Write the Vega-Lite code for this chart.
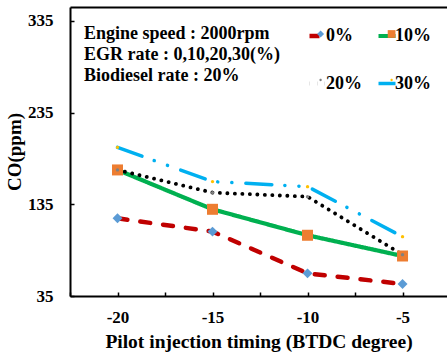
{
  "$schema": "https://vega.github.io/schema/vega-lite/v6.json",
  "width": 377,
  "height": 289,
  "autosize": {"type": "none"},
  "padding": {"left": 70, "top": 7, "right": 0, "bottom": 57},
  "background": "white",
  "config": {"view": {"stroke": null}, "font": "Liberation Serif"},
  "title": {
    "text": ["Engine speed : 2000rpm", "EGR rate : 0,10,20,30(%)", "Biodiesel rate : 20%"],
    "anchor": "start",
    "frame": "group",
    "orient": "top",
    "offset": 0,
    "dx": 14,
    "dy": 78,
    "baseline": "top",
    "lineHeight": 21,
    "font": "Liberation Serif",
    "fontWeight": "bold",
    "fontSize": 18,
    "color": "black"
  },
  "data": {
    "values": [
      {"t": -20, "co": 119.7, "series": "0%"},
      {"t": -15, "co": 105.2, "series": "0%"},
      {"t": -10, "co": 59.7, "series": "0%"},
      {"t": -5, "co": 48.1, "series": "0%"},
      {"t": -20, "co": 172.4, "series": "10%"},
      {"t": -15, "co": 129.5, "series": "10%"},
      {"t": -10, "co": 101.2, "series": "10%"},
      {"t": -5, "co": 78.6, "series": "10%"},
      {"t": -20, "co": 172.4, "series": "20%"},
      {"t": -15, "co": 147.7, "series": "20%"},
      {"t": -10, "co": 143.3, "series": "20%"},
      {"t": -5, "co": 80.0, "series": "20%"},
      {"t": -20, "co": 197.1, "series": "30%"},
      {"t": -15, "co": 159.7, "series": "30%"},
      {"t": -10, "co": 154.2, "series": "30%"},
      {"t": -5, "co": 99.7, "series": "30%"}
    ]
  },
  "layer": [
    {
      "mark": {"type": "line", "strokeCap": "round", "strokeJoin": "round"},
      "encoding": {
        "x": {
          "field": "t", "type": "quantitative",
          "scale": {"domain": [-22.5, -2.66], "nice": false, "zero": false},
          "axis": {
            "orient": "bottom",
            "values": [-22.5, -20, -17.5, -15, -12.5, -10, -7.5, -5],
            "labelExpr": "datum.value % 5 == 0 ? '-' + abs(datum.value) : ''",
            "title": "Pilot injection timing (BTDC degree)",
            "titleFont": "Liberation Serif", "titleFontSize": 19.5, "titleFontWeight": "bold", "titleColor": "black", "titlePadding": 7,
            "labelFont": "Liberation Serif", "labelFontSize": 17, "labelFontWeight": "bold", "labelColor": "black", "labelPadding": 17,
            "tickSize": -4, "tickColor": "black", "tickWidth": 1.5,
            "domainColor": "black", "domainWidth": 2, "grid": false
          }
        },
        "y": {
          "field": "co", "type": "quantitative",
          "scale": {"domain": [35, 350], "nice": false, "zero": false},
          "axis": {
            "values": [35, 135, 235, 335],
            "title": "CO(ppm)",
            "titleFont": "Liberation Serif", "titleFontSize": 19, "titleFontWeight": "bold", "titleColor": "black", "titlePadding": 3,
            "labelFont": "Liberation Serif", "labelFontSize": 17, "labelFontWeight": "bold", "labelColor": "black", "labelPadding": 21,
            "tickSize": -4, "tickColor": "black", "tickWidth": 1.5,
            "domainColor": "black", "domainWidth": 2, "grid": false
          }
        },
        "stroke": {
          "field": "series", "type": "nominal",
          "scale": {"range": ["#C00000", "#00B050", "#000000", "#00B0F0"]},
          "legend": {
            "orient": "none", "legendX": 237, "legendY": 18, "columns": 2, "direction": "horizontal",
            "title": null, "padding": 0,
            "symbolSize": 289, "symbolStrokeWidth": 3.5, "labelOffset": -3,
            "columnPadding": 8, "rowPadding": 28,
            "labelFont": "Liberation Serif", "labelFontSize": 18, "labelFontWeight": "bold", "labelColor": "black"
          }
        },
        "strokeDash": {
          "field": "series", "type": "nominal",
          "scale": {"range": [[10, 13], [1, 0], [0.1, 7.4], [26, 13, 0.1, 14, 0.1, 14]]}
        },
        "strokeWidth": {
          "field": "series", "type": "ordinal",
          "scale": {"range": [4.5, 3.5, 3.5, 4.5]},
          "legend": null
        }
      }
    },
    {
      "mark": {"type": "point", "filled": true, "opacity": 1, "size": 121, "strokeWidth": 0},
      "encoding": {
        "x": {
          "field": "t", "type": "quantitative",
          "axis": {"orient": "top", "labels": false, "ticks": false, "title": null, "domainColor": "black", "domainWidth": 2, "grid": false}
        },
        "y": {"field": "co", "type": "quantitative"},
        "fill": {
          "field": "series", "type": "nominal",
          "scale": {"domain": ["0%", "10%", "20%", "30%"], "range": ["#5B9BD5", "#ED7D31", "#808080", "#FFC000"]},
          "legend": {
            "orient": "none", "legendX": 241.6, "legendY": 18, "columns": 2, "direction": "horizontal",
            "title": null, "padding": 0,
            "symbolSize": 60, "symbolStrokeWidth": 0, "labelOffset": 0,
            "columnPadding": 53, "rowPadding": 28, "labelExpr": "''",
            "labelFont": "Liberation Serif", "labelFontSize": 18, "labelFontWeight": "bold", "labelColor": "black"
          }
        },
        "shape": {
          "field": "series", "type": "nominal",
          "scale": {
            "domain": ["0%", "10%", "20%", "30%"],
            "range": [
              "M0,-0.9L0.9,0L0,0.9L-0.9,0Z",
              "M-1,-1L1,-1L1,1L-1,1Z",
              "M-0.3,0A0.3,0.3 0 1,0 0.3,0A0.3,0.3 0 1,0 -0.3,0Z",
              "M-0.3,0A0.3,0.3 0 1,0 0.3,0A0.3,0.3 0 1,0 -0.3,0Z"
            ]
          }
        }
      }
    }
  ],
  "resolve": {"axis": {"x": "independent"}}
}
